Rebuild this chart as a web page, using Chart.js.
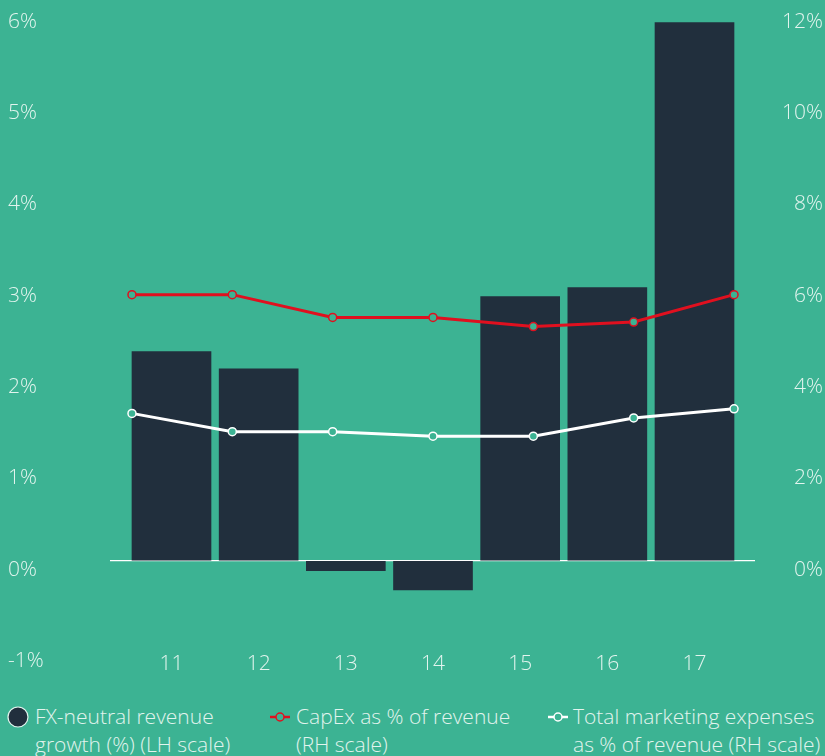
<!DOCTYPE html>
<html>
<head>
<meta charset="utf-8">
<script src="https://cdn.jsdelivr.net/npm/chart.js@4.4.1/dist/chart.umd.min.js"></script>
<style>
  html, body { margin: 0; padding: 0; background: #3cb393; }
  body { width: 825px; height: 756px; position: relative; overflow: hidden;
         font-family: "Open Sans", Roboto, sans-serif; font-weight: 300; color: #e2f4ee; }
  #wrap { position: absolute; left: 0; top: 0; width: 825px; height: 690px; }
  .leg { position: absolute; top: 702px; font-size: 21px; line-height: 28px; }
  .leg .txt { position: absolute; top: 0; white-space: nowrap; }
  .mk { position: absolute; }
</style>
</head>
<body>
<div id="wrap"><canvas id="c"></canvas></div>

<div class="leg" style="left:0">
  <svg class="mk" style="left:6px;top:3px" width="24" height="24"><circle cx="12" cy="12" r="10" fill="#212f3d" stroke="#e2f4ee" stroke-width="1.2"/></svg>
  <div class="txt" style="left:35px">FX-neutral revenue<br>growth (%) (LH scale)</div>
</div>
<div class="leg" style="left:268px">
  <svg class="mk" style="left:0;top:3px" width="24" height="24"><line x1="2" y1="12" x2="22" y2="12" stroke="#e0101f" stroke-width="2.5"/><circle cx="12" cy="12" r="4" fill="#3cb393" stroke="#e0101f" stroke-width="1.5"/></svg>
  <div class="txt" style="left:28px">CapEx as % of revenue<br>(RH scale)</div>
</div>
<div class="leg" style="left:546px">
  <svg class="mk" style="left:0;top:3px" width="24" height="24"><line x1="2" y1="12" x2="22" y2="12" stroke="#ffffff" stroke-width="2.5"/><circle cx="12" cy="12" r="4" fill="#3cb393" stroke="#ffffff" stroke-width="1.5"/></svg>
  <div class="txt" style="left:27px">Total marketing expenses<br>as % of revenue (RH scale)</div>
</div>

<script>
// ---- data ----
const categories = ['11', '12', '13', '14', '15', '16', '17'];
const revenueGrowth = [2.29, 2.10, -0.11, -0.32, 2.89, 2.99, 5.89];      // LH scale (%)
const capexPct = [6.0, 6.0, 5.5, 5.5, 5.3, 5.4, 6.0];                   // RH scale (%)
const marketingPct = [3.4, 3.0, 3.0, 2.9, 2.9, 3.3, 3.5];               // RH scale (%)
const leftTicks = [-1, 0, 1, 2, 3, 4, 5, 6];
const rightTicks = [0, 2, 4, 6, 8, 10, 12];

const BG = '#3cb393';
const TXT = '#e2f4ee';
const FONT = { family: '"Open Sans", Roboto, sans-serif', size: 21, weight: '300' };

const toXY = arr => arr.map((v, i) => ({ x: i, y: v }));

new Chart(document.getElementById('c'), {
  data: {
    datasets: [
      {
        type: 'bar', label: 'FX-neutral revenue growth (%) (LH scale)',
        data: toXY(revenueGrowth), xAxisID: 'x', yAxisID: 'y',
        backgroundColor: '#212f3d', borderWidth: 0,
        barThickness: 79, grouped: false, order: 2
      },
      {
        type: 'line', label: 'CapEx as % of revenue (RH scale)',
        data: toXY(capexPct), xAxisID: 'x2', yAxisID: 'y1',
        borderColor: '#e0101f', borderWidth: 3, tension: 0,
        pointRadius: 4, pointBorderWidth: 1.5, pointBackgroundColor: BG,
        pointBorderColor: '#e0101f', order: 1
      },
      {
        type: 'line', label: 'Total marketing expenses as % of revenue (RH scale)',
        data: toXY(marketingPct), xAxisID: 'x2', yAxisID: 'y1',
        borderColor: '#ffffff', borderWidth: 3, tension: 0,
        pointRadius: 4, pointBorderWidth: 1.5, pointBackgroundColor: BG,
        pointBorderColor: '#ffffff', order: 0
      }
    ]
  },
  options: {
    responsive: true, maintainAspectRatio: false, animation: false,
    layout: { padding: { left: 8, right: 2, top: 12, bottom: 14 } },
    plugins: { legend: { display: false }, tooltip: { enabled: false } },
    scales: {
      x: {
        type: 'linear', position: 'bottom', min: -0.7055, max: 6.694, offset: false,
        grid: { display: false, offset: false }, border: { display: false },
        afterBuildTicks: s => { s.ticks = categories.map((c, i) => ({ value: i })); },
        afterFit: s => { s.height = 24; },
        ticks: { color: TXT, font: FONT, padding: -9, maxRotation: 0, autoSkip: false,
                 callback: v => categories[v] }
      },
      x2: {
        type: 'linear', display: false, min: -0.219, max: 6.209, offset: false
      },
      y: {
        position: 'left', min: -1, max: 6,
        afterBuildTicks: s => { s.ticks = leftTicks.map(v => ({ value: v })); },
        afterFit: s => { s.width = 102; },
        grid: { drawTicks: false, lineWidth: 1.2,
                color: c => (c.tick && c.tick.value === 0) ? '#ffffff' : 'rgba(0,0,0,0)' },
        border: { display: false },
        ticks: { color: TXT, font: FONT, padding: 0, crossAlign: 'far', labelOffset: 9,
                 callback: v => v + '%' }
      },
      y1: {
        position: 'right', min: -1.824, max: 12.175,
        afterBuildTicks: s => { s.ticks = rightTicks.map(v => ({ value: v })); },
        afterFit: s => { s.width = 68; },
        grid: { display: false }, border: { display: false },
        ticks: { color: TXT, font: FONT, padding: 0, crossAlign: 'far', labelOffset: 1,
                 callback: v => v + '%' }
      }
    }
  }
});
</script>
</body>
</html>
